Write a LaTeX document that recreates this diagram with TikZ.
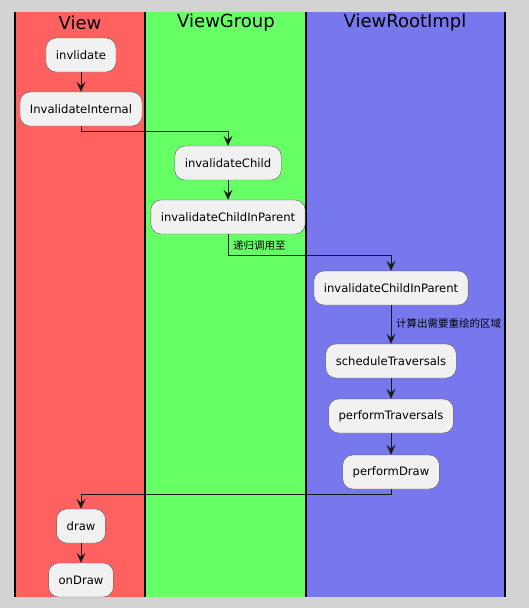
\documentclass[tikz,border=0pt]{standalone}
\usepackage{fontspec}
\setmainfont{DejaVu Sans}
\newfontfamily\cjk{Noto Sans CJK SC}
\usetikzlibrary{arrows.meta,calc}
\definecolor{pagegray}{HTML}{D3D3D3}
\definecolor{viewred}{HTML}{FF6161}
\definecolor{groupgreen}{HTML}{66FF66}
\definecolor{rootblue}{HTML}{7777EE}
\definecolor{actfill}{HTML}{F1F1F1}
\definecolor{actline}{HTML}{5A5A5A}
\definecolor{flowline}{HTML}{181818}
\tikzset{
  act/.style={draw=actline, fill=actfill, rounded corners=10pt, minimum height=34pt, inner xsep=10pt, font=\fontsize{11.6}{13}\selectfont},
  flow/.style={draw=flowline, line width=1pt, -{Stealth[length=10pt,width=9pt,inset=4pt]}},
  lane/.style={line width=1.2pt},
  lanetitle/.style={font=\fontsize{18}{20}\selectfont},
  note/.style={anchor=west, inner sep=0pt, font=\cjk\fontsize{10.5}{12}\selectfont}
}

\begin{document}
\begin{tikzpicture}[x=1pt,y=-1pt]
		%%%%% LANES %%%%%
		\fill[pagegray] (0,0) rectangle (529,608);
		\useasboundingbox (0,0) rectangle (529,608);
		\fill[viewred] (15,12) rectangle (145,597);
		\fill[groupgreen] (145,12) rectangle (306,597);
		\fill[rootblue] (306,12) rectangle (505,597);
		\foreach \x in {15,145,306,505}
			\draw[lane] (\x,12) -- (\x,597);
		\node[lanetitle] (viewtitle) at (80,23) {View};
		\node[lanetitle] (grouptitle) at (226,23) {ViewGroup};
		\node[lanetitle] (roottitle) at (405,23) {ViewRootImpl};
		
		%%%%% ACTIVITIES %%%%%
		\node[act] (inv) at (81,55) {invlidate};
		\node[act] (intern) at (81,109) {InvalidateInternal};
		\node[act] (child) at (228,163) {invalidateChild};
		\node[act] (childparent) at (228,217) {invalidateChildInParent};
		\node[act] (rootparent) at (391,288) {invalidateChildInParent};
		\node[act] (schedule) at (391,361) {scheduleTraversals};
		\node[act] (perform) at (391,416) {performTraversals};
		\node[act] (pdraw) at (391,472) {performDraw};
		\node[act] (draw) at (81,526) {draw};
		\node[act] (ondraw) at (81,580) {onDraw};
		
		\node[note] (recurse) at (233,246) {递归调用至};
		\node[note] (region) at (396,323) {计算出需要重绘的区域};
		
		%%%%% FLOW %%%%%
		\draw[flow] (inv) -- (intern);
		\draw[flow] (intern.south) -- ++(0,5) -| (child.north);
		\draw[flow] (child) -- (childparent);
		\draw[flow] (childparent.south) -- ++(0,21) -| (rootparent.north);
		\draw[flow] (rootparent) -- (schedule);
		\draw[flow] (schedule) -- (perform);
		\draw[flow] (perform) -- (pdraw);
		\draw[flow] (pdraw.south) -- ++(0,5) -| (draw.north);
		\draw[flow] (draw) -- (ondraw);
	\end{tikzpicture}
\end{document}
